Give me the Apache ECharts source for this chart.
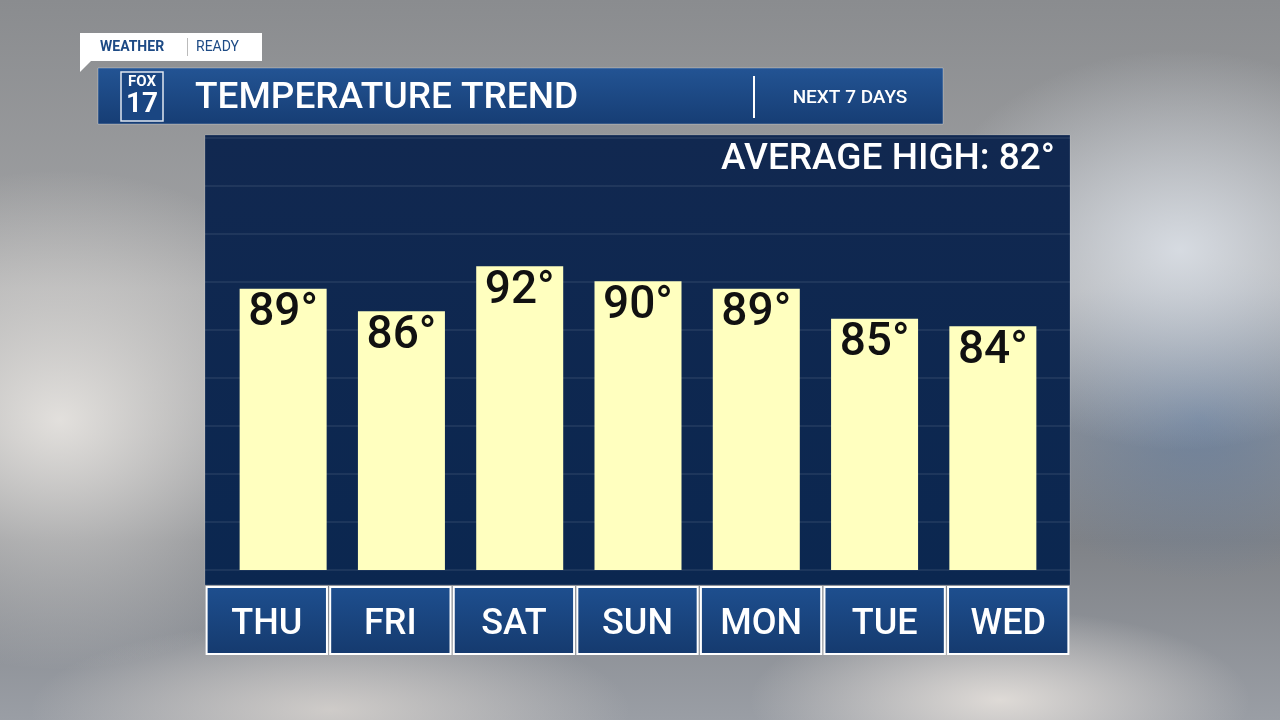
<!DOCTYPE html>
<html><head><meta charset="utf-8">
<script src="https://cdn.jsdelivr.net/npm/echarts@6/dist/echarts.min.js"></script>
<style>
html,body{margin:0;padding:0;width:1280px;height:720px;overflow:hidden;}
body{background:
radial-gradient(ellipse 300px 250px at 60px 420px, rgba(235,232,228,0.9), rgba(235,232,228,0) 100%),
radial-gradient(ellipse 260px 200px at 1180px 250px, rgba(220,225,232,0.9), rgba(220,225,232,0) 100%),
radial-gradient(ellipse 200px 160px at 1200px 420px, rgba(90,120,160,0.6), rgba(90,120,160,0) 100%),
radial-gradient(ellipse 250px 90px at 1000px 700px, rgba(230,225,220,0.9), rgba(230,225,220,0) 100%),
radial-gradient(ellipse 300px 90px at 330px 710px, rgba(220,215,210,0.8), rgba(220,215,210,0) 100%),
linear-gradient(180deg,#8a8c8f 0%,#a3a4a6 40%,#7f8287 75%,#9a9ea5 100%);}
#c{width:1280px;height:720px;}
</style></head><body>
<div id="c"></div>
<script>
const categories = ['THU','FRI','SAT','SUN','MON','TUE','WED'];
const highs = [89,86,92,90,89,85,84];
const averageHigh = 82;
const title = 'TEMPERATURE TREND';
const subtitle = 'NEXT 7 DAYS';

const chart = echarts.init(document.getElementById('c'));
const font = 'Roboto, "Open Sans", sans-serif';
chart.setOption({
  animation:false,
  graphic:[
    {type:'rect',shape:{x:205,y:135,width:865,height:450},style:{fill:{type:'linear',x:0,y:0,x2:0,y2:1,colorStops:[{offset:0,color:'#112850'},{offset:1,color:'#0b2750'}]},stroke:'rgba(255,255,255,0.15)'},z:0},
    {type:'rect',shape:{x:80,y:33,width:182,height:28},style:{fill:'#ffffff'},z:5},
    {type:'polygon',shape:{points:[[80,58],[80,72],[92,60]]},style:{fill:'#ffffff'},z:5},
    {type:'text',x:100,y:47,style:{text:'WEATHER',font:'bold 14px '+font,fill:'#1d4a85',verticalAlign:'middle'},z:6},
    {type:'rect',shape:{x:187,y:38,width:1,height:18},style:{fill:'#bbbbbb'},z:6},
    {type:'text',x:196,y:47,style:{text:'READY',font:'14px '+font,fill:'#1d4a85',verticalAlign:'middle'},z:6},
    {type:'rect',shape:{x:98,y:68,width:845,height:56},style:{fill:{type:'linear',x:0,y:0,x2:0,y2:1,colorStops:[{offset:0,color:'#235494'},{offset:1,color:'#163d74'}]},stroke:'rgba(255,255,255,0.3)'},z:5},
    {type:'rect',shape:{x:121,y:72,width:42,height:49},style:{fill:'#1a4682',stroke:'#dfe6f0',lineWidth:1.5},z:6},
    {type:'text',x:142,y:82,style:{text:'FOX',font:'bold 15px '+font,fill:'#fff',align:'center',verticalAlign:'middle'},z:7},
    {type:'text',x:142,y:105,style:{text:'17',font:'bold 28px '+font,fill:'#fff',align:'center',verticalAlign:'middle'},z:7},
    {type:'text',x:195,y:99,style:{text:title,font:'500 37px '+font,fill:'#fff',verticalAlign:'middle'},z:6},
    {type:'rect',shape:{x:753,y:76,width:2,height:42},style:{fill:'#ffffff'},z:6},
    {type:'text',x:850,y:98,style:{text:subtitle,font:'500 19px '+font,fill:'#fff',align:'center',verticalAlign:'middle'},z:6},
    {type:'text',x:1055,y:160,style:{text:'AVERAGE HIGH: '+averageHigh+'°',font:'500 37px '+font,fill:'#fff',align:'right',verticalAlign:'middle'},z:6}
  ],
  grid:[
    {left:224,right:228,top:135,bottom:150},
    {left:205,right:210,top:586,bottom:65},
    {left:205,right:210,top:138,bottom:150}
  ],
  xAxis:[
    {type:'category',data:categories,gridIndex:0,show:false},
    {type:'category',data:categories,gridIndex:1,show:false},
    {type:'value',gridIndex:2,show:false}
  ],
  yAxis:[
    {type:'value',min:51.5,max:109.5,gridIndex:0,show:false},
    {type:'value',min:0,max:1,gridIndex:1,show:false},
    {type:'value',min:0,max:432,interval:48,gridIndex:2,axisLabel:{show:false},axisLine:{show:false},axisTick:{show:false},
     splitLine:{show:true,lineStyle:{color:'rgba(255,255,255,0.07)',width:2}}}
  ],
  series:[
    {type:'bar',xAxisIndex:0,yAxisIndex:0,data:highs,barWidth:87,z:3,
     itemStyle:{color:'#ffffbf'},
     label:{show:true,position:'insideTop',distance:2,formatter:p=>p.value+'°',fontFamily:font,fontWeight:500,fontSize:46,color:'#111'}},
    {type:'bar',xAxisIndex:1,yAxisIndex:1,data:categories.map(()=>1),barWidth:'99%',z:3,
     itemStyle:{color:{type:'linear',x:0,y:0,x2:0,y2:1,colorStops:[{offset:0,color:'#1e4f8f'},{offset:1,color:'#153a6e'}]},borderColor:'#ffffff',borderWidth:2},
     label:{show:true,position:'inside',formatter:p=>p.name,fontFamily:font,fontWeight:500,fontSize:36,color:'#fff',offset:[0,4]}}
  ]
});
</script></body></html>
